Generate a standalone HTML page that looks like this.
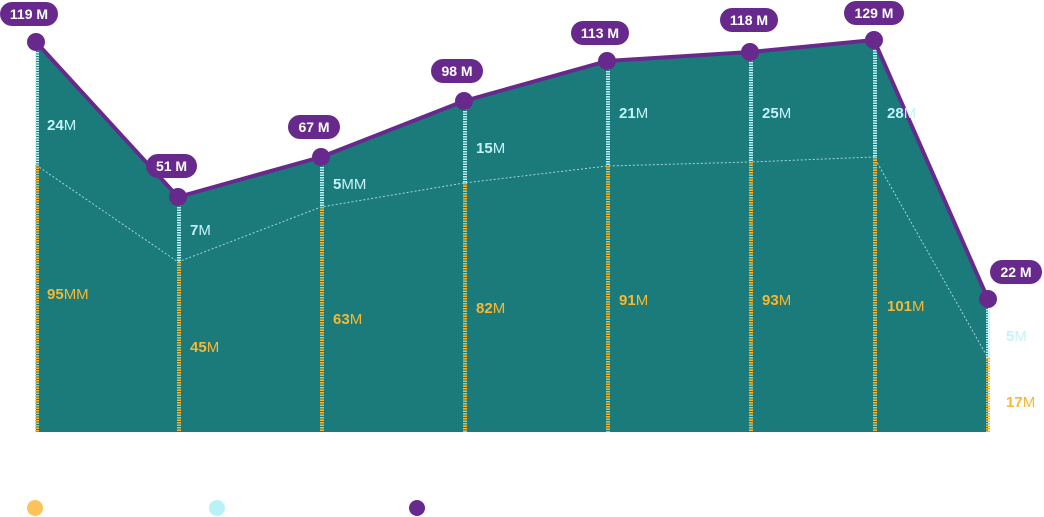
<!DOCTYPE html>
<html><head><style>body{margin:0;background:#fff}svg{display:block;font-family:"Liberation Sans",sans-serif}</style></head><body>
<svg width="1044" height="517" viewBox="0 0 1044 517">
<polygon points="36,42 178,197 321,157 464,101 607,61 750,52 874,40 988,299 988,432 36,432" fill="#1b7b7b"/>
<polyline points="36,165 178,262 321,207 464,183 607,166 750,162 874,157 988,358" fill="none" stroke="#9fd6d6" stroke-width="1" stroke-dasharray="2,2"/>
<g stroke-width="4" stroke-dasharray="1.5,1">
<g stroke="#b8f2f6">
<line x1="37" y1="42" x2="37" y2="165"/><line x1="179" y1="197" x2="179" y2="262"/><line x1="322" y1="157" x2="322" y2="207"/><line x1="465" y1="101" x2="465" y2="183"/><line x1="608" y1="61" x2="608" y2="166"/><line x1="751" y1="52" x2="751" y2="162"/><line x1="875" y1="40" x2="875" y2="157"/><line x1="988" y1="299" x2="988" y2="358"/>
</g>
<g stroke="#f7b731">
<line x1="37" y1="165" x2="37" y2="432"/><line x1="179" y1="262" x2="179" y2="432"/><line x1="322" y1="207" x2="322" y2="432"/><line x1="465" y1="183" x2="465" y2="432"/><line x1="608" y1="166" x2="608" y2="432"/><line x1="751" y1="162" x2="751" y2="432"/><line x1="875" y1="157" x2="875" y2="432"/><line x1="988" y1="358" x2="988" y2="432"/>
</g></g>
<polyline points="36,42 178,197 321,157 464,101 607,61 750,52 874,40 988,299" fill="none" stroke="#672a8c" stroke-width="4" stroke-linejoin="round"/>
<g fill="#672a8c">
<circle cx="36" cy="42" r="9"/><circle cx="178" cy="197" r="9"/><circle cx="321" cy="157" r="9"/><circle cx="464" cy="101" r="9"/><circle cx="607" cy="61" r="9"/><circle cx="750" cy="52" r="9"/><circle cx="874" cy="40" r="9"/><circle cx="988" cy="299" r="9"/>
<rect x="0" y="2" width="58" height="24" rx="12"/><rect x="146" y="154" width="51" height="24" rx="12"/><rect x="288" y="115" width="52" height="24" rx="12"/><rect x="431" y="59" width="52" height="24" rx="12"/><rect x="571" y="21" width="58" height="24" rx="12"/><rect x="720" y="8" width="58" height="24" rx="12"/><rect x="844" y="1" width="60" height="24" rx="12"/><rect x="990" y="260" width="52" height="24" rx="12"/>
</g>
<g fill="#fff" font-weight="bold" font-size="14" text-anchor="middle">
<text x="29" y="19">119 M</text><text x="171.5" y="171">51 M</text><text x="314" y="132">67 M</text><text x="457" y="76">98 M</text><text x="600" y="38">113 M</text><text x="749" y="25">118 M</text><text x="874" y="18">129 M</text><text x="1016" y="277">22 M</text>
</g>
<g font-size="15" fill="#c4f3f7">
<text x="47" y="130"><tspan font-weight="bold">24</tspan>M</text><text x="190" y="235"><tspan font-weight="bold">7</tspan>M</text><text x="333" y="189"><tspan font-weight="bold">5</tspan>MM</text><text x="476" y="153"><tspan font-weight="bold">15</tspan>M</text><text x="619" y="118"><tspan font-weight="bold">21</tspan>M</text><text x="762" y="118"><tspan font-weight="bold">25</tspan>M</text><text x="887" y="118"><tspan font-weight="bold">28</tspan>M</text><text x="1006" y="341"><tspan font-weight="bold">5</tspan>M</text>
</g>
<g font-size="15" fill="#f7b731">
<text x="47" y="299"><tspan font-weight="bold">95</tspan>MM</text><text x="190" y="352"><tspan font-weight="bold">45</tspan>M</text><text x="333" y="324"><tspan font-weight="bold">63</tspan>M</text><text x="476" y="313"><tspan font-weight="bold">82</tspan>M</text><text x="619" y="305"><tspan font-weight="bold">91</tspan>M</text><text x="762" y="305"><tspan font-weight="bold">93</tspan>M</text><text x="887" y="311"><tspan font-weight="bold">101</tspan>M</text><text x="1006" y="407"><tspan font-weight="bold">17</tspan>M</text>
</g>
<circle cx="35" cy="508" r="8" fill="#fcc35a"/><circle cx="217" cy="508" r="8" fill="#b8f2f6"/><circle cx="417" cy="508" r="8" fill="#672a8c"/>
</svg>
</body></html>
